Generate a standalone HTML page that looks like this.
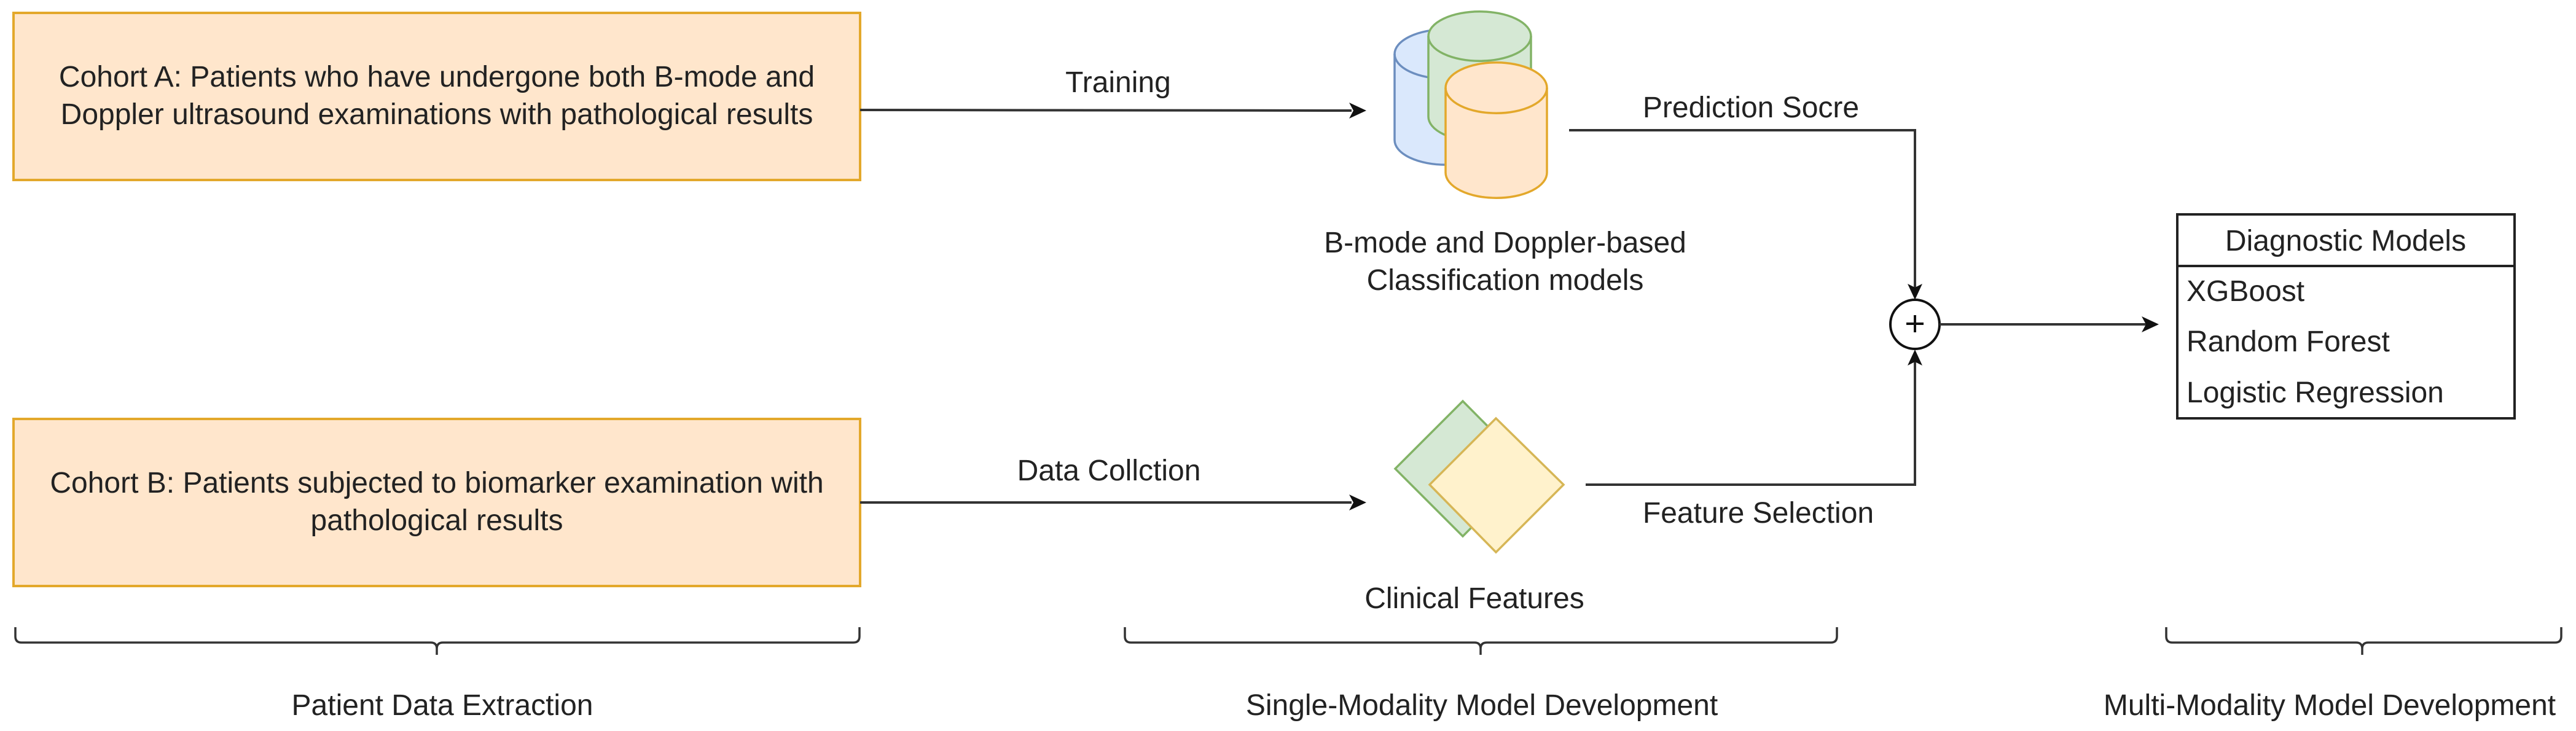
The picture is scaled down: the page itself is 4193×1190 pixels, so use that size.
<!DOCTYPE html>
<html><head><meta charset="utf-8"><style>
html,body{margin:0;padding:0;background:#fff;}
svg{display:block;}
text{font-family:"Liberation Sans",Arial,sans-serif;fill:#222;}
</style></head><body>
<svg width="4193" height="1190" viewBox="0 0 4193 1190" xmlns="http://www.w3.org/2000/svg">
<!-- Cohort boxes -->
<rect x="22" y="21" width="1378" height="272" fill="#ffe6cc" stroke="#e3a82b" stroke-width="4"/>
<text x="711" y="141" font-size="48" text-anchor="middle">Cohort A: Patients who have undergone both B-mode and</text>
<text x="711" y="202" font-size="48" text-anchor="middle">Doppler ultrasound examinations with pathological results</text>
<rect x="22" y="682" width="1378" height="272" fill="#ffe6cc" stroke="#e3a82b" stroke-width="4"/>
<text x="711" y="802" font-size="48" text-anchor="middle">Cohort B: Patients subjected to biomarker examination with</text>
<text x="711" y="863" font-size="48" text-anchor="middle">pathological results</text>

<!-- Training arrow -->
<line x1="1400" y1="179" x2="2200" y2="180" stroke="#333" stroke-width="4"/>
<polygon points="2224,180 2196,167 2203,180 2196,193" fill="#111"/>
<text x="1820" y="150" font-size="48" text-anchor="middle">Training</text>

<!-- Data collection arrow -->
<line x1="1400" y1="818" x2="2200" y2="818" stroke="#333" stroke-width="4"/>
<polygon points="2224,818 2196,805 2203,818 2196,831" fill="#111"/>
<text x="1805" y="782" font-size="48" text-anchor="middle">Data Collction</text>

<!-- Cylinders -->
<g stroke-width="3.5">
<path d="M2270,88 A83,40 0 0 1 2437,88 L2437,228 A83,40 0 0 1 2270,228 Z" fill="#dae8fc" stroke="#6c8ebf"/>
<path d="M2270,88 A83,40 0 0 0 2437,88" fill="none" stroke="#6c8ebf"/>
<path d="M2325,59 A83,40 0 0 1 2492,59 L2492,190 A83,40 0 0 1 2325,190 Z" fill="#d5e8d4" stroke="#82b366"/>
<path d="M2325,59 A83,40 0 0 0 2492,59" fill="none" stroke="#82b366"/>
<path d="M2353,143 A82,41 0 0 1 2518,143 L2518,281 A82,41 0 0 1 2353,281 Z" fill="#ffe6cc" stroke="#e3a82b"/>
<path d="M2353,143 A82,41 0 0 0 2518,143" fill="none" stroke="#e3a82b"/>
</g>
<text x="2450" y="411" font-size="48" text-anchor="middle">B-mode and Doppler-based</text>
<text x="2450" y="472" font-size="48" text-anchor="middle">Classification models</text>

<!-- Diamonds -->
<polygon points="2381,653 2490,763 2381,873 2271,763" fill="#d5e8d4" stroke="#82b366" stroke-width="3.5"/>
<polygon points="2435,681 2545,789 2435,899 2327,789" fill="#fff2cc" stroke="#d6b656" stroke-width="3.5"/>
<text x="2400" y="990" font-size="48" text-anchor="middle">Clinical Features</text>

<!-- Prediction score path -->
<polyline points="2554,212 3117,212 3117,470" fill="none" stroke="#333" stroke-width="4"/>
<polygon points="3117,488 3105,462 3117,468 3129,462" fill="#111"/>
<text x="2850" y="191" font-size="48" text-anchor="middle">Prediction Socre</text>

<!-- Feature selection path -->
<polyline points="2581,789 3117,789 3117,586" fill="none" stroke="#333" stroke-width="4"/>
<polygon points="3117,569 3105,595 3117,589 3129,595" fill="#111"/>
<text x="2862" y="851" font-size="48" text-anchor="middle">Feature Selection</text>

<!-- Circle plus -->
<circle cx="3117" cy="528" r="40" fill="#fff" stroke="#111" stroke-width="4"/>
<line x1="3103" y1="527" x2="3131" y2="527" stroke="#111" stroke-width="4"/>
<line x1="3117" y1="513" x2="3117" y2="541" stroke="#111" stroke-width="4"/>

<!-- Arrow to models -->
<line x1="3157" y1="528" x2="3495" y2="528" stroke="#333" stroke-width="4"/>
<polygon points="3514,528 3486,515 3493,528 3486,541" fill="#111"/>

<!-- Diagnostic models -->
<rect x="3544" y="349" width="549" height="332" fill="#fff" stroke="#222" stroke-width="4"/>
<line x1="3544" y1="433" x2="4093" y2="433" stroke="#222" stroke-width="4"/>
<text x="3818" y="408" font-size="48" text-anchor="middle">Diagnostic Models</text>
<text x="3559" y="490" font-size="48">XGBoost</text>
<text x="3559" y="572" font-size="48">Random Forest</text>
<text x="3559" y="655" font-size="48">Logistic Regression</text>

<!-- Braces -->
<g fill="none" stroke="#333" stroke-width="3.5">
<path d="M25,1021 L25,1036 Q25,1046 35,1046 L701,1046 Q711,1046 711,1056 L711,1066 M711,1056 Q711,1046 721,1046 L1389,1046 Q1399,1046 1399,1036 L1399,1021"/>
<path d="M1831,1021 L1831,1036 Q1831,1046 1841,1046 L2400,1046 Q2410,1046 2410,1056 L2410,1066 M2410,1056 Q2410,1046 2420,1046 L2980,1046 Q2990,1046 2990,1036 L2990,1021"/>
<path d="M3526,1021 L3526,1036 Q3526,1046 3536,1046 L3835,1046 Q3845,1046 3845,1056 L3845,1066 M3845,1056 Q3845,1046 3855,1046 L4159,1046 Q4169,1046 4169,1036 L4169,1021"/>
</g>
<text x="720" y="1164" font-size="48" text-anchor="middle">Patient Data Extraction</text>
<text x="2412" y="1164" font-size="48" text-anchor="middle">Single-Modality Model Development</text>
<text x="3792" y="1164" font-size="48" text-anchor="middle">Multi-Modality Model Development</text>
</svg>
</body></html>
